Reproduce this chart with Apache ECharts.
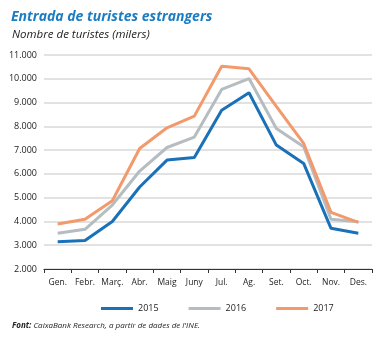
<!DOCTYPE html>
<html><head><meta charset="utf-8">
<script src="https://cdn.jsdelivr.net/npm/echarts@6/dist/echarts.min.js"></script>
<style>html,body{margin:0;padding:0;background:#fff}#c{width:380px;height:338px}</style>
</head><body><div id="c"></div>
<script>
const categories = ['Gen.','Febr.','Març.','Abr.','Maig','Juny','Jul.','Ag.','Set.','Oct.','Nov.','Des.'];
const s2015 = [3150,3200,4000,5450,6580,6690,8680,9410,7210,6440,3710,3500];
const s2016 = [3500,3670,4690,6120,7110,7550,9550,10010,7910,7140,4090,3990];
const s2017 = [3890,4090,4870,7070,7940,8430,10530,10420,8840,7280,4380,3960];
const yTicks = [2000,3000,4000,5000,6000,7000,8000,9000,10000,11000];
const fmt = v => String(v/1000) + '.000';
const chart = echarts.init(document.getElementById('c'));
const mk = (name, data, color) => ({name, type:'line', data, symbol:'none', lineStyle:{width:3, color}, itemStyle:{color}, z: 2});
chart.setOption({
  animation:false,
  textStyle:{fontFamily:'Open Sans'},
  title:[
    {text:'Entrada de turistes estrangers', left:6, top:5, textStyle:{fontFamily:'Open Sans', fontStyle:'italic', fontWeight:'bold', fontSize:14, color:'#1a7cc1'}},
    {text:'Nombre de turistes (milers)', left:7, top:24, textStyle:{fontFamily:'Open Sans', fontStyle:'italic', fontWeight:'normal', fontSize:11.5, color:'#222'}},
    {text:'{b|Font:} CaixaBank Research, a partir de dades de l\'INE.', left:7, top:317, textStyle:{fontFamily:'Open Sans', fontStyle:'italic', fontWeight:'normal', fontSize:8, color:'#222', rich:{b:{fontFamily:'Open Sans', fontStyle:'italic', fontWeight:'bold', fontSize:8, color:'#222'}}}}
  ],
  legend:{top:299, left:96, itemWidth:32, itemHeight:3, itemGap:30, icon:'rect', textStyle:{fontSize:9, color:'#222'}, data:['2015','2016','2017']},
  grid:{left:44, right:8, top:55, bottom:69},
  xAxis:{type:'category', data:categories, boundaryGap:true,
    axisLine:{lineStyle:{color:'#333', width:1.2}}, axisTick:{show:true, length:4, lineStyle:{color:'#333'}},
    axisLabel:{fontSize:8.5, color:'#222', margin:9, interval:0}},
  yAxis:{type:'value', min:2000, max:11000, interval:1000,
    axisLine:{show:false}, axisTick:{show:false},
    splitLine:{lineStyle:{color:'#d9d9d9', width:1.5}},
    axisLabel:{fontSize:9, color:'#222', margin:7, formatter:v=>fmt(v)}},
  series:[mk('2015', s2015, '#1a71b8'), mk('2016', s2016, '#b6bdc1'), mk('2017', s2017, '#f29a6c')]
});
</script></body></html>
